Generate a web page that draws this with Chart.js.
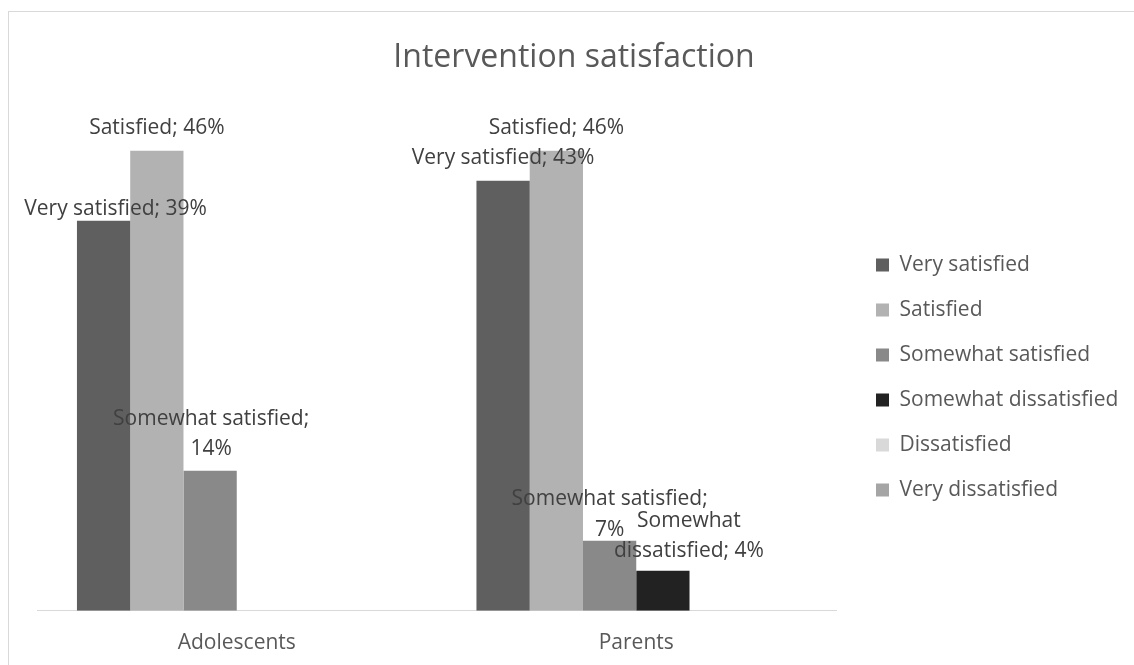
<!DOCTYPE html>
<html>
<head>
<meta charset="utf-8">
<script src="https://cdn.jsdelivr.net/npm/chart.js@4/dist/chart.umd.min.js"></script>
<style>
  html, body { margin: 0; padding: 0; background: #fff; overflow: hidden; }
  #wrap { position: relative; width: 1134px; height: 665px; overflow: hidden; }
  #frame { position: absolute; left: 8px; top: 11px; width: 1200px; height: 700px;
           border: 1px solid #d9d9d9; box-sizing: border-box; }
  canvas { position: absolute; left: 0; top: 0; }
</style>
</head>
<body>
<div id="wrap">
  <div id="frame"></div>
  <canvas id="chart" width="1134" height="700"></canvas>
</div>
<script>
// Groups along the x axis
const categories = ['Adolescents', 'Parents'];

// Response levels (one bar series each)
const seriesNames = ['Very satisfied', 'Satisfied', 'Somewhat satisfied',
                     'Somewhat dissatisfied', 'Dissatisfied', 'Very dissatisfied'];

// Percent of respondents, [Adolescents, Parents]
const verySatisfied        = [39, 43];
const satisfied            = [46, 46];
const somewhatSatisfied    = [14, 7];
const somewhatDissatisfied = [null, 4];
const dissatisfied         = [null, null];
const veryDissatisfied     = [null, null];

const seriesValues = [verySatisfied, satisfied, somewhatSatisfied,
                      somewhatDissatisfied, dissatisfied, veryDissatisfied];
const seriesColors = ['#5f5f5f', '#b2b2b2', '#898989', '#222222', '#d9d9d9', '#a5a5a5'];

const FONT = "'Open Sans', 'Noto Sans', sans-serif";
const LABEL_SIZE = 21;
const LEGEND_SIZE = 21;
const LEGEND_PAD = 24;
const LEGEND_BOX = 13;

// Plot area edges and legend/title anchors on the page
const PLOT_LEFT = 37, PLOT_RIGHT = 836;
const LEGEND_BOX_X = 876, LEGEND_FIRST_Y = 265;
const TITLE_CENTER_X = 574;

// Width the legend will ask for, so the plot area ends where wanted
const measureCtx = document.createElement('canvas').getContext('2d');
measureCtx.font = LEGEND_SIZE + 'px ' + FONT;
const widestLegend = Math.max(...seriesNames.map(n => measureCtx.measureText(n).width));
const legendWidth = LEGEND_PAD + LEGEND_BOX + LEGEND_SIZE / 2 + widestLegend + 10;
const padRight = Math.max(0, 1134 - PLOT_RIGHT - legendWidth);

// Placement of each value label relative to the top of its bar:
// dx shifts horizontally, dy is the centre of the last line, wrap = words on the first line
const labelPlacement = {
  '0-0': { dx: 12, dy: -12 },
  '1-0': { dx: 0,  dy: -23 },
  '2-0': { dx: 1,  dy: -22, wrap: 2, gap: 30 },
  '0-1': { dx: 0,  dy: -23 },
  '1-1': { dx: 0,  dy: -23 },
  '2-1': { dx: 0,  dy: -11, wrap: 2, gap: 31 },
  '3-1': { dx: 26, dy: -20, wrap: 1, gap: 30 }
};

const barLabels = {
  id: 'barLabels',
  afterDatasetsDraw(chart) {
    const ctx = chart.ctx;
    ctx.save();
    ctx.font = LABEL_SIZE + 'px ' + FONT;
    ctx.fillStyle = '#404040';
    ctx.textAlign = 'center';
    ctx.textBaseline = 'middle';
    chart.data.datasets.forEach((ds, i) => {
      const meta = chart.getDatasetMeta(i);
      meta.data.forEach((el, j) => {
        const v = ds.data[j];
        if (v === null || v === undefined) return;
        const text = ds.label + '; ' + v + '%';
        const p = labelPlacement[i + '-' + j] || { dx: 0, dy: -23 };
        let lines = [text];
        if (p.wrap) {
          const words = text.split(' ');
          lines = [words.slice(0, p.wrap).join(' '), words.slice(p.wrap).join(' ')];
        }
        const gap = p.gap || 30;
        lines.forEach((ln, k) => {
          const y = el.y + p.dy - (lines.length - 1 - k) * gap;
          ctx.fillText(ln, el.x + p.dx, y);
        });
      });
    });
    ctx.restore();
  }
};

// Moves the legend and title boxes to their anchors once the layout is known
const placeBlocks = {
  id: 'placeBlocks',
  afterLayout(chart) {
    const lg = chart.legend;
    if (lg) {
      const dx = LEGEND_BOX_X - (lg.left + LEGEND_PAD);
      const colH = 6 * (LEGEND_SIZE + LEGEND_PAD);
      const y0 = (lg.top + LEGEND_PAD + lg.bottom - colH) / 2;
      const dy = (LEGEND_FIRST_Y - LEGEND_SIZE / 2) - y0;
      lg.left += dx; lg.right += dx;
      lg.top += dy; lg.bottom += dy;
    }
    const tb = chart.titleBlock;
    if (tb) {
      const dx = TITLE_CENTER_X - (tb.left + tb.right) / 2;
      tb.left += dx; tb.right += dx;
    }
  }
};

new Chart(document.getElementById('chart'), {
  type: 'bar',
  data: {
    labels: categories,
    datasets: seriesNames.map((name, i) => ({
      label: name,
      data: seriesValues[i],
      backgroundColor: seriesColors[i],
      borderWidth: 0,
      categoryPercentage: 0.8,
      barPercentage: 1.0
    }))
  },
  options: {
    responsive: false,
    animation: false,
    events: [],
    layout: { padding: { left: PLOT_LEFT, right: padRight, top: 0, bottom: 24.1 } },
    scales: {
      x: {
        grid: { display: false, drawTicks: false },
        border: { display: true, color: '#d9d9d9', width: 1 },
        ticks: { color: '#595959', font: { family: FONT, size: 21, lineHeight: 1.2 }, padding: 20 }
      },
      y: {
        display: false,
        min: 0, max: 50
      }
    },
    plugins: {
      title: {
        display: true,
        text: 'Intervention satisfaction',
        color: '#595959',
        font: { family: FONT, size: 32, weight: 'normal', lineHeight: 1.2 },
        padding: { top: 38.8, bottom: 33.5 }
      },
      legend: {
        position: 'right',
        align: 'center',
        labels: {
          color: '#595959',
          font: { family: FONT, size: LEGEND_SIZE },
          boxWidth: LEGEND_BOX,
          boxHeight: LEGEND_BOX,
          padding: LEGEND_PAD
        }
      },
      tooltip: { enabled: false }
    }
  },
  plugins: [barLabels, placeBlocks]
});
</script>
</body>
</html>
